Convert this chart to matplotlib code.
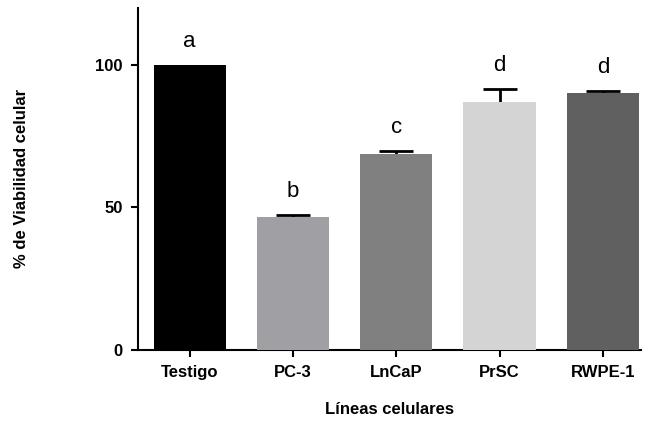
import matplotlib.pyplot as plt

lineas = ['Testigo', 'PC-3', 'LnCaP', 'PrSC', 'RWPE-1']
viabilidad = [100.0, 46.8, 68.9, 87.1, 90.0]
error = [0.0, 0.5, 1.0, 4.6, 0.8]
letras = ['a', 'b', 'c', 'd', 'd']
colores = ['#000000', '#a0a0a4', '#808080', '#d4d4d4', '#606060']

plt.rcParams['font.family'] = ['Liberation Sans', 'DejaVu Sans']

fig = plt.figure(figsize=(6.45, 4.23), dpi=100)
ax = fig.add_axes([0.214, 0.173, 0.78, 0.808])

x = list(range(len(lineas)))
ax.bar(x, viabilidad, width=0.7, color=colores, zorder=3)
# solo la mitad superior queda visible (la barra tapa la inferior)
con_err = [i for i in x if error[i] > 0]
ax.errorbar([x[i] for i in con_err], [viabilidad[i] for i in con_err],
            yerr=[error[i] for i in con_err], fmt='none', ecolor='black',
            elinewidth=2, capsize=12, capthick=2, zorder=2)

for i, (v, e, l) in enumerate(zip(viabilidad, error, letras)):
    ax.text(i, v + e + 4.5, l, ha='center', va='bottom', fontsize=16)

ax.set_ylim(0, 120)
ax.set_xlim(-0.5, 4.37)
ax.set_yticks([0, 50, 100])
ax.set_xticks(x)
ax.set_xticklabels(lineas, fontweight='bold', fontsize=12)
for t in ax.get_yticklabels():
    t.set_fontweight('bold')
    t.set_fontsize(12)

ax.spines['top'].set_visible(False)
ax.spines['right'].set_visible(False)
ax.spines['left'].set_linewidth(1.5)
ax.spines['bottom'].set_linewidth(1.5)
ax.tick_params(width=1.5, length=5, pad=6)

ax.set_ylabel('% de Viabilidad celular', fontweight='bold', fontsize=12, labelpad=48)
ax.set_xlabel('Líneas celulares', fontweight='bold', fontsize=12, labelpad=16)

plt.savefig('out.png', dpi=100)
